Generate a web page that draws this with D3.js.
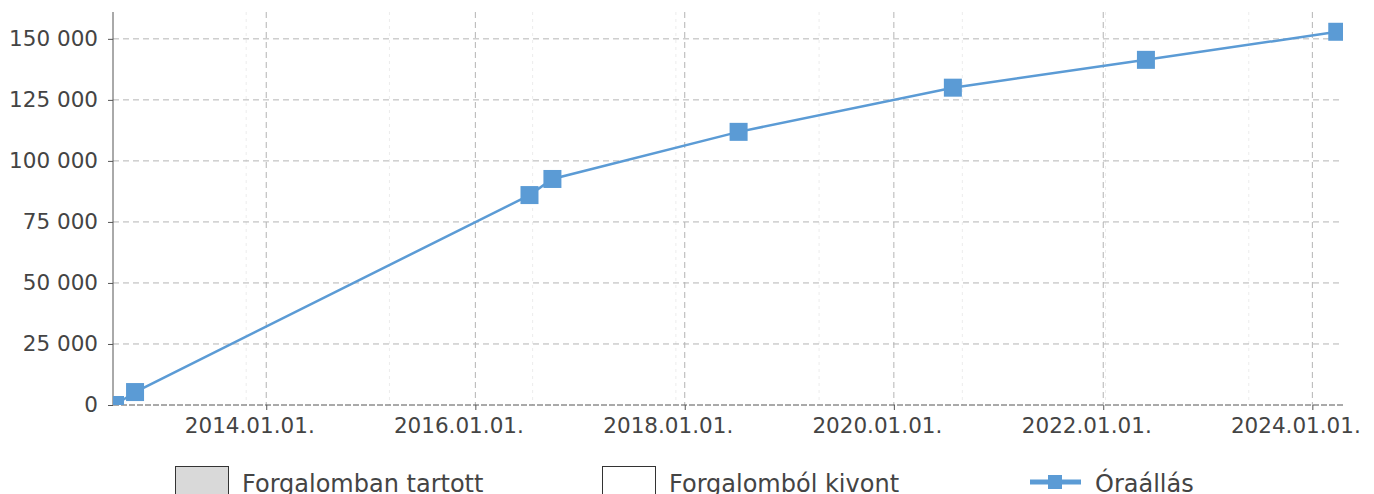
<!DOCTYPE html>
<html>
<head>
<meta charset="utf-8">
<script src="https://cdn.jsdelivr.net/npm/d3@7"></script>
<style>
  body { margin: 0; background: #fff; }
  svg { font-family: "DejaVu Sans", sans-serif; }
</style>
</head>
<body>
<div class="chart"></div>
<script>
// readings (date, odometer value)
const readDates = ['2012-07-22', '2012-09-30', '2016-07-08', '2016-09-26',
  '2018-07-08', '2020-07-25', '2022-05-30', '2024-03-28'];
const readValues = [0, 5300, 86000, 92600, 111900, 130000, 141400, 152900];
const yTicks = [0, 25000, 50000, 75000, 100000, 125000, 150000];
const xTickYears = [2014, 2016, 2018, 2020, 2022, 2024];
const legendLabels = ['Forgalomban tartott', 'Forgalomból kivont', 'Óraállás'];

const parse = d3.timeParse('%Y-%m-%d');
const readings = readDates.map((d, i) => ({date: parse(d), value: readValues[i]}));

const width = 1374;
const height = 494;
const margin = {top: 12, left: 113, right: 31, bottom: 89};
const plotRight = width - margin.right;
const plotBottom = height - margin.bottom;
const blue = '#5b9bd5';

const x = d3.scaleTime()
  .domain([new Date(2012, 6, 15), new Date(2024, 3, 17)])
  .range([margin.left, plotRight]);
const y = d3.scaleLinear().domain([0, 161000]).range([plotBottom, margin.top]);

const fmt = d3.formatLocale({decimal: ',', thousands: ' ', grouping: [3], currency: ['', '']}).format(',d');

const svg = d3.select('.chart').append('svg')
  .attr('width', width).attr('height', height);

svg.append('clipPath').attr('id', 'plot')
  .append('rect')
  .attr('x', margin.left).attr('y', margin.top)
  .attr('width', plotRight - margin.left).attr('height', plotBottom - margin.top);

// faint minor vertical grid
svg.append('g').selectAll('line').data(d3.timeDay.range(new Date(2013, 9, 23), new Date(2024, 3, 17), 500))
  .enter().append('line')
  .attr('x1', d => x(d)).attr('x2', d => x(d))
  .attr('y1', margin.top).attr('y2', plotBottom)
  .attr('stroke', '#ececec').attr('stroke-dasharray', '3,4');

const xTicks = xTickYears.map(yr => new Date(yr, 0, 1));

// major grid
svg.append('g').selectAll('line').data(xTicks)
  .enter().append('line')
  .attr('x1', d => x(d)).attr('x2', d => x(d))
  .attr('y1', margin.top).attr('y2', plotBottom)
  .attr('stroke', '#b4b4b4').attr('stroke-dasharray', '6,4');

svg.append('g').selectAll('line').data(yTicks.slice(1))
  .enter().append('line')
  .attr('x1', margin.left).attr('x2', plotRight)
  .attr('y1', d => y(d)).attr('y2', d => y(d))
  .attr('stroke', '#b4b4b4').attr('stroke-dasharray', '6,4');

// axes
const yAxis = svg.append('g')
  .attr('transform', `translate(${margin.left},0)`)
  .call(d3.axisLeft(y).tickValues(yTicks).tickFormat(fmt).tickSize(5).tickPadding(10));
yAxis.select('.domain').attr('d', `M0,${margin.top}V${plotBottom}`).attr('stroke', '#555');

const xAxis = svg.append('g')
  .attr('transform', `translate(0,${plotBottom})`)
  .call(d3.axisBottom(x).tickValues(xTicks).tickFormat(d3.timeFormat('%Y.%m.%d.')).tickSize(5).tickPadding(8));
xAxis.select('.domain').attr('d', `M${margin.left},0H${plotRight}`)
  .attr('stroke', '#555').attr('stroke-dasharray', '6,2');
xAxis.selectAll('.tick text').attr('dx', -17);

svg.selectAll('.tick line').attr('stroke', '#555');
svg.selectAll('.tick text').attr('fill', '#444').style('font-size', '21.5px')
  .style('font-family', '"DejaVu Sans", sans-serif');

// series
const plot = svg.append('g').attr('clip-path', 'url(#plot)');
plot.append('path').datum(readings)
  .attr('fill', 'none').attr('stroke', blue).attr('stroke-width', 2.5)
  .attr('d', d3.line().x(d => x(d.date)).y(d => y(d.value)));

const sq = 18;
plot.selectAll('.dot').data(readings)
  .enter().append('rect')
  .attr('class', 'dot')
  .attr('x', d => x(d.date) - sq / 2).attr('y', d => y(d.value) - sq / 2)
  .attr('width', sq).attr('height', sq)
  .attr('fill', blue);

// legend
const legend = svg.append('g').style('font-size', '24px').attr('fill', '#444');
const boxX = [175, 602];
const boxFill = ['#d9d9d9', '#fff'];
boxX.forEach((bx, i) => {
  legend.append('rect').attr('x', bx + 0.5).attr('y', 466.5)
    .attr('width', 53).attr('height', 40)
    .attr('fill', boxFill[i]).attr('stroke', '#333');
  legend.append('text').attr('x', bx + 67).attr('y', 492).text(legendLabels[i]);
});
legend.append('line').attr('x1', 1030).attr('x2', 1081).attr('y1', 482).attr('y2', 482)
  .attr('stroke', blue).attr('stroke-width', 5);
legend.append('rect').attr('x', 1048).attr('y', 475).attr('width', 14).attr('height', 14).attr('fill', blue);
legend.append('text').attr('x', 1095).attr('y', 492).text(legendLabels[2]);
</script>
</body>
</html>
